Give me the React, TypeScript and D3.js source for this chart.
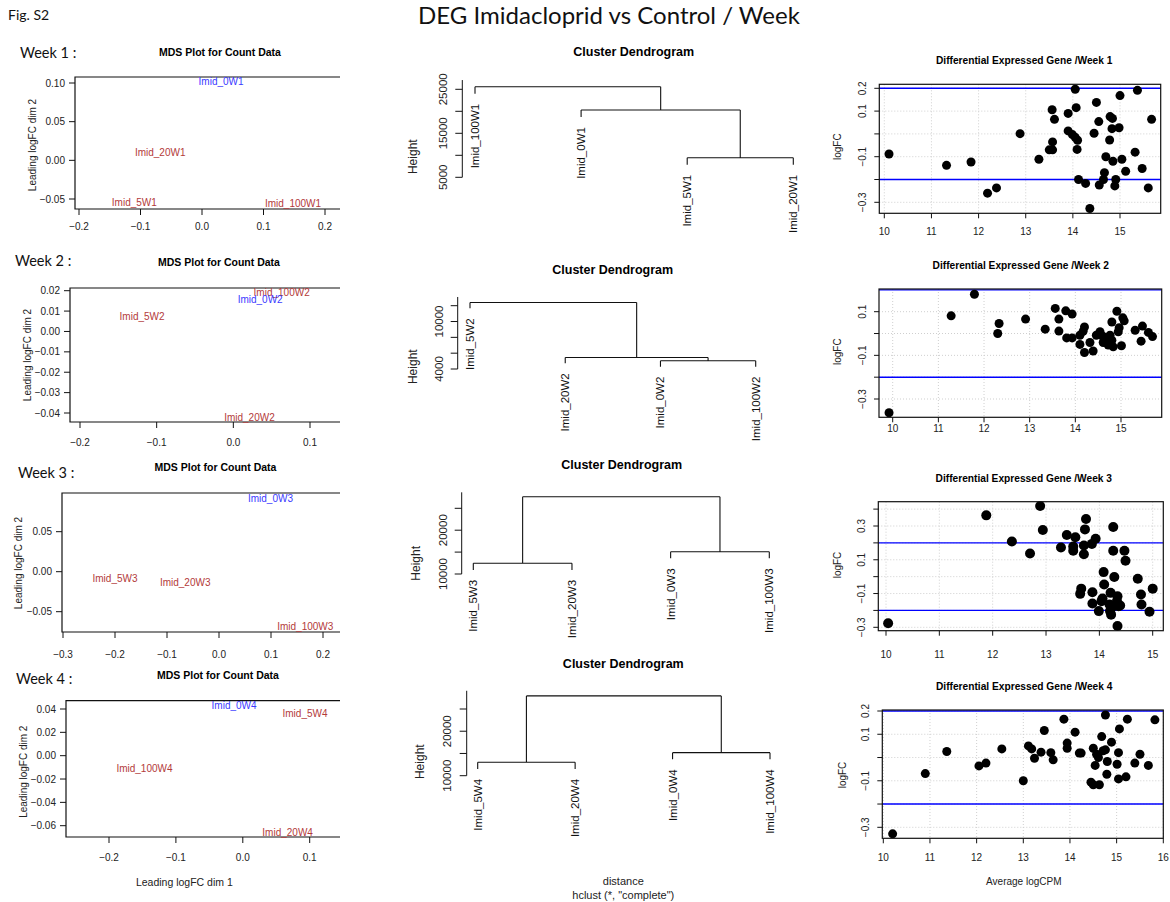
import React from "react";
import * as d3 from "d3";

const FONT = "'Liberation Sans', Arial, Helvetica, sans-serif";
const CAL = "Lato, 'Open Sans', sans-serif";
const BLUE_TXT = "#3a3aff";
const RED_TXT = "#b33a3a";

// ---------- DATA ----------
const figLabel = "Fig. S2";
const mainTitle = "DEG Imidacloprid vs Control / Week";
const weekLabels = ["Week 1 :", "Week 2 :", "Week 3 :", "Week 4 :"];

// MDS: [sample, leading logFC dim 1, leading logFC dim 2]
const mdsW1: [string, number, number][] = [
  ["Imid_0W1", 0.031, 0.102],
  ["Imid_20W1", -0.068, 0.01],
  ["Imid_5W1", -0.11, -0.055],
  ["Imid_100W1", 0.148, -0.056],
];
const mdsW2: [string, number, number][] = [
  ["Imid_100W2", 0.063, 0.019],
  ["Imid_0W2", 0.035, 0.0157],
  ["Imid_5W2", -0.119, 0.0075],
  ["Imid_20W2", 0.021, -0.042],
];
const mdsW3: [string, number, number][] = [
  ["Imid_0W3", 0.099, 0.092],
  ["Imid_5W3", -0.2, -0.008],
  ["Imid_20W3", -0.065, -0.013],
  ["Imid_100W3", 0.166, -0.069],
];
const mdsW4: [string, number, number][] = [
  ["Imid_0W4", -0.013, 0.043],
  ["Imid_5W4", 0.093, 0.036],
  ["Imid_100W4", -0.147, -0.0114],
  ["Imid_20W4", 0.067, -0.066],
];
const mdsXTicksW1 = [-0.2, -0.1, 0, 0.1, 0.2];
const mdsYTicksW1 = [-0.05, 0, 0.05, 0.1];
const mdsXTicksW2 = [-0.2, -0.1, 0, 0.1];
const mdsYTicksW2 = [-0.04, -0.03, -0.02, -0.01, 0, 0.01, 0.02];
const mdsXTicksW3 = [-0.3, -0.2, -0.1, 0, 0.1, 0.2];
const mdsYTicksW3 = [-0.05, 0, 0.05];
const mdsXTicksW4 = [-0.2, -0.1, 0, 0.1];
const mdsYTicksW4 = [-0.06, -0.04, -0.02, 0, 0.02, 0.04];

// Dendrograms (hclust, complete linkage): heights of merges
type TNode = { name?: string; h?: number; children?: TNode[] };
const dendroW1: TNode = {
  h: 25590,
  children: [
    { name: "Imid_100W1" },
    { h: 20300, children: [{ name: "Imid_0W1" }, { h: 9455, children: [{ name: "Imid_5W1" }, { name: "Imid_20W1" }] }] },
  ],
};
const dendroW2: TNode = {
  h: 12412,
  children: [
    { name: "Imid_5W2" },
    { h: 5462, children: [{ name: "Imid_20W2" }, { h: 5037, children: [{ name: "Imid_0W2" }, { name: "Imid_100W2" }] }] },
  ],
};
const dendroW3: TNode = {
  h: 27650,
  children: [
    { h: 12443, children: [{ name: "Imid_5W3" }, { name: "Imid_20W3" }] },
    { h: 15090, children: [{ name: "Imid_0W3" }, { name: "Imid_100W3" }] },
  ],
};
const dendroW4: TNode = {
  h: 27950,
  children: [
    { h: 13018, children: [{ name: "Imid_5W4" }, { name: "Imid_20W4" }] },
    { h: 15180, children: [{ name: "Imid_0W4" }, { name: "Imid_100W4" }] },
  ],
};
const dendroTicksW1 = [5000, 10000, 15000, 20000, 25000];
const dendroLabelsW1 = [5000, 15000, 25000];
const dendroTicksW2 = [4000, 6000, 8000, 10000, 12000];
const dendroLabelsW2 = [4000, 10000];
const dendroTicksW3 = [10000, 15000, 20000, 25000];
const dendroLabelsW3 = [10000, 20000];
const dendroTicksW4 = [10000, 15000, 20000, 25000];
const dendroLabelsW4 = [10000, 20000];

// DEG: [average logCPM, logFC]
const degW1: [number, number][] = [
  [10.1, -0.088], [11.32, -0.138], [11.84, -0.123], [12.19, -0.26], [12.38, -0.237], [12.88, 0.001],
  [13.28, -0.111], [13.56, 0.106], [13.61, 0.064], [13.57, -0.035], [13.5, -0.07], [13.57, -0.07],
  [13.9, 0.09], [13.9, 0.013], [13.99, -0.003], [14.05, -0.015], [14.1, -0.028], [14.05, 0.196],
  [14.07, 0.115], [14.09, -0.068], [14.12, -0.2], [14.27, -0.217], [14.45, 0.003], [14.5, 0.138],
  [14.55, 0.054], [14.56, -0.224], [14.65, -0.2], [14.67, -0.17], [14.7, -0.1], [14.78, -0.027],
  [14.79, 0.076], [14.84, 0.068], [14.83, 0.023], [14.85, -0.12], [14.91, -0.2], [14.89, -0.228],
  [14.98, 0.027], [15.0, 0.168], [15.04, -0.111], [15.12, -0.164], [14.36, -0.327], [15.32, -0.08],
  [15.37, 0.191], [15.47, -0.152], [15.6, -0.237], [15.67, 0.064],
];
const degW2: [number, number][] = [
  [9.92, -0.363], [11.28, 0.081], [11.79, 0.18], [12.33, 0.046], [12.3, 0.0], [12.91, 0.066],
  [13.34, 0.02], [13.56, 0.115], [13.64, 0.066], [13.64, 0.011], [13.79, 0.104], [13.93, 0.089],
  [13.81, -0.02], [13.93, -0.02], [14.1, -0.008], [14.17, 0.01], [14.2, 0.03], [14.1, -0.05],
  [14.2, -0.087], [14.32, -0.041], [14.39, -0.08], [14.5, -0.005], [14.54, 0.008], [14.6, -0.012],
  [14.61, -0.041], [14.67, -0.023], [14.72, -0.053], [14.76, -0.008], [14.8, -0.031], [14.83, -0.061],
  [14.8, 0.053], [14.91, 0.102], [14.94, 0.008], [14.96, 0.027], [15.01, -0.056], [15.04, 0.072],
  [15.07, 0.058], [15.31, 0.015], [15.47, 0.034], [15.44, -0.035], [15.6, 0.005], [15.69, -0.014],
  [14.63, -0.034], [14.46, -0.008],
];
const degW3: [number, number][] = [
  [10.04, -0.276], [11.88, 0.363], [12.36, 0.208], [12.7, 0.137], [12.89, 0.418], [12.94, 0.276],
  [13.28, 0.173], [13.39, 0.247], [13.51, 0.178], [13.51, 0.153], [13.55, 0.233], [13.73, 0.28],
  [13.75, 0.341], [13.71, 0.184], [13.71, 0.133], [13.86, 0.194], [13.93, 0.224], [14.26, 0.294],
  [14.26, 0.153], [14.47, 0.153], [14.49, 0.094], [14.08, 0.027], [14.09, -0.047], [14.28, -0.002],
  [13.66, -0.071], [13.64, -0.102], [13.87, -0.092], [13.87, -0.159], [13.99, -0.204], [14.04, -0.145],
  [14.06, -0.129], [14.21, -0.096], [14.19, -0.165], [14.2, -0.204], [14.22, -0.225], [14.23, -0.184],
  [14.34, -0.116], [14.33, -0.145], [14.36, -0.175], [14.39, -0.171], [14.34, -0.292], [14.72, -0.012],
  [14.78, -0.106], [14.79, -0.165], [14.94, -0.208], [15.0, -0.071],
];
const degW4: [number, number][] = [
  [10.2, -0.328], [10.9, -0.069], [11.36, 0.026], [12.05, -0.036], [12.2, -0.024], [12.54, 0.037],
  [13.0, -0.1], [13.11, 0.05], [13.18, 0.037], [13.24, -0.003], [13.38, 0.023], [13.45, 0.116],
  [13.59, 0.021], [13.64, -0.01], [13.87, 0.165], [13.94, 0.062], [13.94, 0.04], [14.11, 0.109],
  [14.2, 0.019], [14.24, 0.019], [14.45, -0.106], [14.5, -0.117], [14.63, -0.117], [14.5, 0.04],
  [14.54, -0.034], [14.57, 0.014], [14.61, 0.0], [14.68, 0.09], [14.71, 0.029], [14.76, 0.183],
  [14.76, 0.033], [14.79, -0.072], [14.8, -0.017], [14.89, 0.066], [15.01, -0.029], [15.04, 0.021],
  [15.04, -0.092], [15.06, 0.123], [15.2, -0.083], [15.23, 0.165], [15.39, -0.024], [15.5, 0.014],
  [15.68, -0.034], [15.82, 0.162],
];
const degXTicksW1 = [10, 11, 12, 13, 14, 15];
const degXTicksW2 = [10, 11, 12, 13, 14, 15];
const degXTicksW3 = [10, 11, 12, 13, 14, 15];
const degXTicksW4 = [10, 11, 12, 13, 14, 15, 16];
const degYTicksW1 = [-0.3, -0.2, -0.1, 0, 0.1, 0.2];
const degYLabelsW1 = [-0.3, -0.1, 0.1, 0.2];
const degYTicksW2 = [-0.3, -0.2, -0.1, 0, 0.1];
const degYLabelsW2 = [-0.3, -0.1, 0.1];
const degYTicksW3 = [-0.3, -0.2, -0.1, 0, 0.1, 0.2, 0.3, 0.4];
const degYLabelsW3 = [-0.3, -0.1, 0.1, 0.3];
const degYTicksW4 = [-0.3, -0.2, -0.1, 0, 0.1, 0.2];
const degYLabelsW4 = [-0.3, -0.1, 0.1, 0.2];
const degThreshold = [-0.2, 0.2];

// ---------- LAYOUT ----------
const mdsLayout = [
  { data: mdsW1, xt: mdsXTicksW1, yt: mdsYTicksW1, wk: [20, 52], title: [220, 52], box: [75, 340, 77, 209], xr: [79, 325], yr: [83, 199], ylab: [32, 145], xtickY: 226, xlab: false },
  { data: mdsW2, xt: mdsXTicksW2, yt: mdsYTicksW2, wk: [15, 260], title: [219, 262], box: [70, 340, 288, 422], xr: [80, 310], yr: [290.7, 413], ylab: [27, 355], xtickY: 442, xlab: false },
  { data: mdsW3, xt: mdsXTicksW3, yt: mdsYTicksW3, wk: [18, 472], title: [215.5, 467], box: [62, 340, 493, 632], xr: [63, 323], yr: [531.7, 611.7], ylab: [18, 563], xtickY: 654, xlab: false },
  { data: mdsW4, xt: mdsXTicksW4, yt: mdsYTicksW4, wk: [16, 678], title: [218, 675], box: [66, 340, 700.7, 837], xr: [109, 309.7], yr: [709, 825.7], ylab: [23, 771.7], xtickY: 857, xlab: true },
];

const dendroLayout = [
  { tree: dendroW1, ticks: dendroTicksW1, labels: dendroLabelsW1, axisTop: 27100, leafR: [475, 793.3], yr: [177.3, 89.3], axisX: 462.3, title: [633.7, 51.7], hlab: [413.3, 156.7], tickLabX: 443.3, foot: false },
  { tree: dendroW2, ticks: dendroTicksW2, labels: dendroLabelsW2, axisTop: 13100, leafR: [470, 755.7], yr: [369, 305.7], axisX: 457.7, title: [612.7, 270], hlab: [413.3, 366.7], tickLabX: 439.3, foot: false },
  { tree: dendroW3, ticks: dendroTicksW3, labels: dendroLabelsW3, axisTop: 28650, leafR: [473.3, 769.3], yr: [574, 508.3], axisX: 461.7, title: [621.7, 465], hlab: [416, 563.3], tickLabX: 442.7, foot: false },
  { tree: dendroW4, ticks: dendroTicksW4, labels: dendroLabelsW4, axisTop: 29100, leafR: [477.7, 770], yr: [775.7, 709], axisX: 466.7, title: [623.3, 664], hlab: [420, 761.7], tickLabX: 446.7, foot: true },
];

const degLayout = [
  { data: degW1, xt: degXTicksW1, yt: degYTicksW1, yl: degYLabelsW1, week: 1, xd: [10, 15], xr: [884.3, 1120], yd: [0.2, -0.3], yr: [88.3, 202.3], box: [879.3, 1160.7, 84.3, 213.3], title: [1024.2, 60.7], ylab: [837.3, 146.7], xtickY: 231, r: 4.5, xlab: false },
  { data: degW2, xt: degXTicksW2, yt: degYTicksW2, yl: degYLabelsW2, week: 2, xd: [10, 15], xr: [892.7, 1121], yd: [0.1, -0.3], yr: [311.7, 399], box: [879, 1161.7, 289, 417.3], title: [1020.8, 265], ylab: [837.3, 351.7], xtickY: 428.3, r: 4.5, xlab: false },
  { data: degW3, xt: degXTicksW3, yt: degYTicksW3, yl: degYLabelsW3, week: 3, xd: [10, 15], xr: [886, 1152.7], yd: [0.3, -0.3], yr: [526, 627.3], box: [878.3, 1163.3, 501.7, 630.7], title: [1023.8, 478.3], ylab: [837, 565], xtickY: 654, r: 5, xlab: false },
  { data: degW4, xt: degXTicksW4, yt: degYTicksW4, yl: degYLabelsW4, week: 4, xd: [10, 16], xr: [883.3, 1163.3], yd: [0.2, -0.3], yr: [711, 827.3], box: [882.3, 1163.3, 710, 838.3], title: [1024.2, 686.7], ylab: [842.7, 775], xtickY: 857.7, r: 4.5, xlab: true },
];

const minus = (s: string) => s.replace("-", "\u2212");

function MDS({ L }: { L: (typeof mdsLayout)[number] }) {
  const [bl, br, bt, bb] = L.box;
  const xt = L.xt;
  const yt = L.yt;
  const x = d3.scaleLinear().domain([xt[0], xt[xt.length - 1]]).range(L.xr);
  const y = d3.scaleLinear().domain([yt[yt.length - 1], yt[0]]).range(L.yr);
  const fx = d3.format(".1f");
  const fy = d3.format(".2f");
  return (
    <g fontFamily={FONT}>
      <text x={L.title[0]} y={L.title[1]} textAnchor="middle" dominantBaseline="central" fontSize={10.5} fontWeight="bold">
        MDS Plot for Count Data
      </text>
      <path d={`M${br},${bt}H${bl}V${bb}H${br}`} fill="none" stroke="#111" strokeWidth={1.2} />
      {xt.map((t) => (
        <g key={"x" + t}>
          <line x1={x(t)} x2={x(t)} y1={bb} y2={bb + 6} stroke="#111" />
          <text x={x(t)} y={L.xtickY} textAnchor="middle" dominantBaseline="central" fontSize={10} fill="#222">
            {minus(fx(t))}
          </text>
        </g>
      ))}
      {yt.map((t) => (
        <g key={"y" + t}>
          <line x1={bl - 6} x2={bl} y1={y(t)} y2={y(t)} stroke="#111" />
          <text x={bl - 10} y={y(t)} textAnchor="end" dominantBaseline="central" fontSize={10} fill="#222">
            {minus(fy(t))}
          </text>
        </g>
      ))}
      <text transform={`translate(${L.ylab[0]},${L.ylab[1]}) rotate(-90)`} textAnchor="middle" dominantBaseline="central" fontSize={10} fill="#222">
        Leading logFC dim 2
      </text>
      {L.xlab && (
        <text x={(L.xr[0] + L.xr[1]) / 2 - 25} y={882} textAnchor="middle" dominantBaseline="central" fontSize={10.5} fill="#222">
          Leading logFC dim 1
        </text>
      )}
      {L.data.map(([name, dx, dy]) => (
        <text key={name} x={x(dx)} y={y(dy)} textAnchor="middle" dominantBaseline="central" fontSize={10} fill={name.includes("_0W") ? BLUE_TXT : RED_TXT}>
          {name}
        </text>
      ))}
    </g>
  );
}

function Dendro({ L }: { L: (typeof dendroLayout)[number] }) {
  const root = d3.hierarchy<TNode>(L.tree);
  const leaves = root.leaves();
  const xs = d3.scalePoint<string>().domain(leaves.map((d) => d.data.name as string)).range(L.leafR);
  const y = d3.scaleLinear().domain([L.ticks[0], L.ticks[L.ticks.length - 1]]).range(L.yr);
  const hs = root.descendants().filter((d) => d.children).map((d) => d.data.h as number);
  const hang = 0.1 * ((d3.max(hs) as number) - (d3.min(hs) as number));
  const pos = new Map<any, number>();
  root.eachAfter((n) => {
    if (!n.children) pos.set(n, xs(n.data.name as string) as number);
    else pos.set(n, d3.mean(n.children, (c) => pos.get(c)) as number);
  });
  const segs: string[] = [];
  const labels: { name: string; x: number; y: number }[] = [];
  root.each((n) => {
    if (!n.children) return;
    const yh = y(n.data.h as number);
    const cx = n.children.map((c) => pos.get(c) as number);
    segs.push(`M${d3.min(cx)},${yh}H${d3.max(cx)}`);
    n.children.forEach((c) => {
      const cxx = pos.get(c) as number;
      const bottom = c.children ? y(c.data.h as number) : y((n.data.h as number) - hang);
      segs.push(`M${cxx},${yh}V${bottom}`);
      if (!c.children) labels.push({ name: c.data.name as string, x: cxx, y: bottom });
    });
  });
  return (
    <g fontFamily={FONT}>
      <text x={L.title[0]} y={L.title[1]} textAnchor="middle" dominantBaseline="central" fontSize={12.5} fontWeight="bold">
        Cluster Dendrogram
      </text>
      <path d={segs.join("")} fill="none" stroke="#111" strokeWidth={1.1} />
      {labels.map((l) => (
        <text key={l.name} transform={`translate(${l.x},${l.y + 10}) rotate(-90)`} textAnchor="end" dominantBaseline="central" fontSize={11.5} fill="#111">
          {l.name}
        </text>
      ))}
      <line x1={L.axisX} x2={L.axisX} y1={y(L.ticks[0])} y2={y(L.axisTop)} stroke="#111" />
      {L.ticks.map((t) => (
        <line key={t} x1={L.axisX - 7} x2={L.axisX} y1={y(t)} y2={y(t)} stroke="#111" />
      ))}
      {L.labels.map((t) => (
        <text key={"l" + t} transform={`translate(${L.tickLabX},${y(t)}) rotate(-90)`} textAnchor="middle" dominantBaseline="central" fontSize={11.5} fill="#222">
          {t}
        </text>
      ))}
      <text transform={`translate(${L.hlab[0]},${L.hlab[1]}) rotate(-90)`} textAnchor="middle" dominantBaseline="central" fontSize={12} fill="#222">
        Height
      </text>
      {L.foot && (
        <g fill="#222" fontSize={11}>
          <text x={L.title[0]} y={881} textAnchor="middle" dominantBaseline="central">distance</text>
          <text x={L.title[0]} y={895} textAnchor="middle" dominantBaseline="central">hclust (*, "complete")</text>
        </g>
      )}
    </g>
  );
}

function DEG({ L }: { L: (typeof degLayout)[number] }) {
  const [bl, br, bt, bb] = L.box;
  const x = d3.scaleLinear().domain(L.xd).range(L.xr);
  const y = d3.scaleLinear().domain(L.yd).range(L.yr);
  const fy = d3.format(".1f");
  return (
    <g fontFamily={FONT}>
      <text x={L.title[0]} y={L.title[1]} textAnchor="middle" dominantBaseline="central" fontSize={10.2} fontWeight="bold">
        {`Differential Expressed Gene /Week ${L.week}`}
      </text>
      {L.xt.map((t) => (
        <line key={"gx" + t} x1={x(t)} x2={x(t)} y1={bt} y2={bb} stroke="#cfcfcf" strokeDasharray="1,2" />
      ))}
      {L.yt.map((t) => (
        <line key={"gy" + t} x1={bl} x2={br} y1={y(t)} y2={y(t)} stroke="#cfcfcf" strokeDasharray="1,2" />
      ))}
      {degThreshold.map((t) => (
        <line key={"th" + t} x1={bl} x2={br} y1={y(t)} y2={y(t)} stroke="#0000ff" strokeWidth={1.4} />
      ))}
      {L.data.map(([a, b], i) => (
        <circle key={i} cx={x(a)} cy={y(b)} r={L.r} fill="#000" />
      ))}
      <rect x={bl} y={bt} width={br - bl} height={bb - bt} fill="none" stroke="#111" strokeWidth={1.2} />
      {L.xt.map((t) => (
        <g key={"x" + t}>
          <line x1={x(t)} x2={x(t)} y1={bb} y2={bb + 5} stroke="#111" />
          <text x={x(t)} y={L.xtickY} textAnchor="middle" dominantBaseline="central" fontSize={10} fill="#222">
            {t}
          </text>
        </g>
      ))}
      {L.yt.map((t) => (
        <line key={"y" + t} x1={bl - 5} x2={bl} y1={y(t)} y2={y(t)} stroke="#111" />
      ))}
      {L.yl.map((t) => (
        <text key={"yl" + t} transform={`translate(${bl - 16.5},${y(t)}) rotate(-90)`} textAnchor="middle" dominantBaseline="central" fontSize={10} fill="#222">
          {minus(fy(t))}
        </text>
      ))}
      <text transform={`translate(${L.ylab[0]},${L.ylab[1]}) rotate(-90)`} textAnchor="middle" dominantBaseline="central" fontSize={10} fill="#222">
        logFC
      </text>
      {L.xlab && (
        <text x={1023.8} y={881.7} textAnchor="middle" dominantBaseline="central" fontSize={10} fill="#222">
          Average logCPM
        </text>
      )}
    </g>
  );
}

export default function App() {
  return (
    <svg width={1170} height={902} style={{ position: "absolute", left: 0, top: 0, background: "#fff" }}>
      <rect width={1170} height={902} fill="#fff" />
      <text x={8} y={14} fontFamily={CAL} fontSize={14} dominantBaseline="central" fill="#111">
        {figLabel}
      </text>
      <text x={609} y={14} fontFamily={CAL} fontSize={24} textAnchor="middle" dominantBaseline="central" fill="#111">
        {mainTitle}
      </text>
      {mdsLayout.map((L, i) => (
        <text key={"wk" + i} x={L.wk[0]} y={L.wk[1]} fontFamily={CAL} fontSize={14.5} dominantBaseline="central" fill="#111">
          {weekLabels[i]}
        </text>
      ))}
      {mdsLayout.map((L, i) => (
        <MDS key={"m" + i} L={L} />
      ))}
      {dendroLayout.map((L, i) => (
        <Dendro key={"d" + i} L={L} />
      ))}
      {degLayout.map((L, i) => (
        <DEG key={"g" + i} L={L} />
      ))}
    </svg>
  );
}
